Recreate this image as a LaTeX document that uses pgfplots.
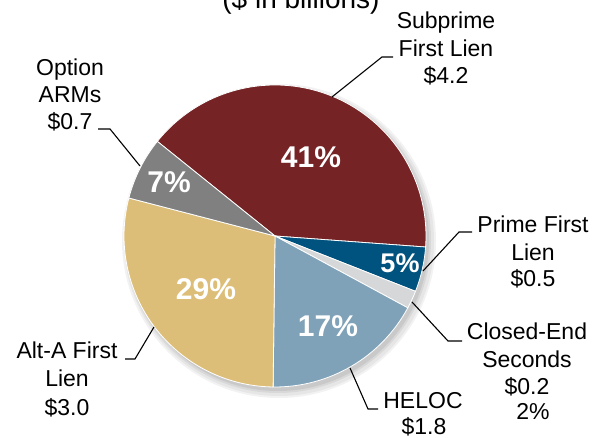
\documentclass[border=0pt]{standalone}
\usepackage{pgfplots}
\pgfplotsset{compat=1.18}
\usepackage{pgfplotstable}
\usepackage{fontspec}
\setmainfont{Liberation Sans}
\definecolor{cSub}{HTML}{752325}
\definecolor{cPrime}{HTML}{00527F}
\definecolor{cClosed}{HTML}{D6D7D8}
\definecolor{cHeloc}{HTML}{7FA2B8}
\definecolor{cAlt}{HTML}{DDBE78}
\definecolor{cOpt}{HTML}{808080}
\newcommand\lbl{\fontsize{23}{27}\selectfont}
\newcommand\pct{\fontsize{30}{34}\selectfont\bfseries}
\pgfplotstableread{
label value
Subprime 4.2
Prime 0.5
Closed 0.2
HELOC 1.8
AltA 3.0
Option 0.7
}\piedata
\def\startangle{141.2}
\newcommand\slice[2]{%
  \fill[#2, draw=white, line width=0.8pt] (axis cs:275,202) -- ++(\csname sa#1\endcsname:151pt)
    arc[start angle=\csname sa#1\endcsname, end angle=\csname ea#1\endcsname, radius=151pt] -- cycle;}
\begin{document}
\begin{tikzpicture}
\xdef\cum{0}
\foreach \i in {0,...,5}{%
  \pgfplotstablegetelem{\i}{value}\of\piedata
  \pgfmathsetmacro\tmp{\cum+\pgfplotsretval}%
  \xdef\cum{\tmp}}
\xdef\total{\cum}
\xdef\cum{0}
\foreach \i in {0,...,5}{%
  \pgfplotstablegetelem{\i}{value}\of\piedata
  \pgfmathsetmacro\sa{\startangle-360*\cum/\total}%
  \pgfmathsetmacro\tmp{\cum+\pgfplotsretval}%
  \pgfmathsetmacro\ea{\startangle-360*\tmp/\total}%
  \expandafter\xdef\csname sa\i\endcsname{\sa}%
  \expandafter\xdef\csname ea\i\endcsname{\ea}%
  \xdef\cum{\tmp}}
\begin{axis}[
  width=594pt, height=438pt, scale only axis,
  xmin=0, xmax=594, ymin=0, ymax=438,
  hide axis, clip=false]
\coordinate (bl) at (axis cs:0,0);
\coordinate (tr) at (axis cs:594,438);
% soft shadow
\fill[black, opacity=0.05] (axis cs:279,197) circle[radius=157pt];
\fill[black, opacity=0.05] (axis cs:279,197) circle[radius=155pt];
\fill[black, opacity=0.06] (axis cs:278,198) circle[radius=153pt];
\fill[black, opacity=0.07] (axis cs:278,198) circle[radius=151pt];
\slice{0}{cSub}
\slice{1}{cPrime}
\slice{2}{cClosed}
\slice{3}{cHeloc}
\slice{4}{cAlt}
\slice{5}{cOpt}
% leader lines
\addplot[black, line width=1.1pt, no markers] coordinates {(393,381) (382,381) (332,341)};
\addplot[black, line width=1.1pt, no markers] coordinates {(98,309) (110,309) (140,272)};
\addplot[black, line width=1.1pt, no markers] coordinates {(472,206) (459,206) (423,167)};
\addplot[black, line width=1.1pt, no markers] coordinates {(462,97) (448,97) (412,136)};
\addplot[black, line width=1.1pt, no markers] coordinates {(378,29) (368,29) (350,70)};
\addplot[black, line width=1.1pt, no markers] coordinates {(125,79) (135,79) (154,111)};
% title
\node[anchor=base, font=\fontsize{28}{32}\selectfont] at (axis cs:301,429) {(\$ in billions)};
% labels
\node[anchor=base, font=\lbl] at (axis cs:446,409) {Subprime};
\node[anchor=base, font=\lbl] at (axis cs:446,381) {First Lien};
\node[anchor=base, font=\lbl] at (axis cs:446,354) {\$4.2};
\node[anchor=base, font=\lbl] at (axis cs:70,362) {Option};
\node[anchor=base, font=\lbl] at (axis cs:70,335) {ARMs};
\node[anchor=base, font=\lbl] at (axis cs:70,308) {\$0.7};
\node[anchor=base, font=\lbl] at (axis cs:533,205) {Prime First};
\node[anchor=base, font=\lbl] at (axis cs:533,177) {Lien};
\node[anchor=base, font=\lbl] at (axis cs:533,151) {\$0.5};
\node[anchor=base, font=\lbl] at (axis cs:527,98) {Closed-End};
\node[anchor=base, font=\lbl] at (axis cs:527,70) {Seconds};
\node[anchor=base, font=\lbl] at (axis cs:527,43) {\$0.2};
\node[anchor=base, font=\lbl] at (axis cs:533,18) {2\%};
\node[anchor=base, font=\lbl] at (axis cs:423,29) {HELOC};
\node[anchor=base, font=\lbl] at (axis cs:424,3) {\$1.8};
\node[anchor=base, font=\lbl] at (axis cs:67,79) {Alt-A First};
\node[anchor=base, font=\lbl] at (axis cs:67,51) {Lien};
\node[anchor=base, font=\lbl] at (axis cs:67,22) {\$3.0};
% percentages
\node[anchor=base, font=\pct, text=white] at (axis cs:311,270) {41\%};
\node[anchor=base, font=\pct, text=white] at (axis cs:169,245) {7\%};
\node[anchor=base, font=\pct, text=white] at (axis cs:206,138) {29\%};
\node[anchor=base, font=\pct, text=white] at (axis cs:328,101) {17\%};
\node[anchor=base, font=\fontsize{27}{30}\selectfont\bfseries, text=white] at (axis cs:400,165) {5\%};
\end{axis}
\pgfresetboundingbox
\path[use as bounding box] (bl) rectangle (tr);
\end{tikzpicture}
\end{document}
